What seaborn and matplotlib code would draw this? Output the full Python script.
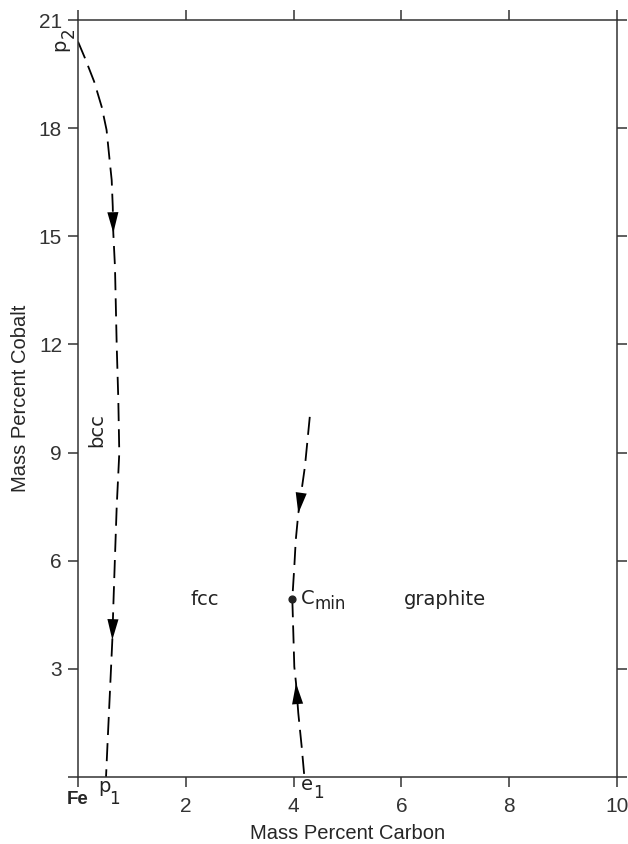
import pandas as pd
import matplotlib.pyplot as plt
import seaborn as sns

# curve p2 -> p1 (bcc / fcc boundary)
p_carbon = [0.0, 0.13, 0.30, 0.44, 0.53, 0.58, 0.625, 0.645, 0.655, 0.686,
            0.718, 0.748, 0.766, 0.748, 0.718, 0.686, 0.655, 0.637, 0.594,
            0.551, 0.52]
p_cobalt = [20.40, 19.94, 19.29, 18.59, 17.95, 17.21, 16.56, 15.82, 15.09,
            14.15, 11.98, 10.46, 8.99, 8.42, 7.50, 6.11, 4.72, 3.80, 2.41,
            1.03, 0.0]

# curve through Cmin to e1 (fcc / graphite boundary)
e_carbon = [4.30, 4.21, 4.087, 4.04, 4.013, 3.976, 3.995, 4.013, 4.045,
            4.087, 4.15, 4.20]
e_cobalt = [9.99, 8.61, 7.31, 6.57, 5.83, 4.94, 3.99, 3.06, 2.60, 1.77,
            0.84, 0.0]

# arrow heads: (tip, point behind tip)
arrows = [((0.655, 15.09), (0.645, 15.82)),
          ((0.637, 3.80), (0.655, 4.72)),
          ((4.087, 7.31), (4.21, 8.61)),
          ((4.045, 2.60), (4.087, 1.77))]

cmin = (3.976, 4.94)

x_ticks = [0, 2, 4, 6, 8, 10]
x_ticklabels = ['', '2', '4', '6', '8', '10']
y_ticks = [0, 3, 6, 9, 12, 15, 18, 21]
y_ticklabels = ['', '3', '6', '9', '12', '15', '18', '21']

sns.set_style('ticks')
plt.rcParams['font.family'] = ['Liberation Sans', 'DejaVu Sans']

fig, ax = plt.subplots(figsize=(6.28, 8.44), dpi=100)
fig.subplots_adjust(left=0.1242, right=0.9825, bottom=0.0794, top=0.9763)

p_df = pd.DataFrame({'carbon': p_carbon, 'cobalt': p_cobalt})
e_df = pd.DataFrame({'carbon': e_carbon, 'cobalt': e_cobalt})
for df in (p_df, e_df):
    sns.lineplot(data=df, x='carbon', y='cobalt', sort=False, estimator=None,
                 color='black', lw=1.3, ax=ax)
for line in ax.lines:
    line.set_dashes((10, 4.5))

for tip, back in arrows:
    ax.annotate('', xy=tip, xytext=back,
                arrowprops=dict(arrowstyle='-|>,head_length=0.75,head_width=0.2',
                                mutation_scale=20, fc='black', ec='black',
                                lw=0, shrinkA=0, shrinkB=0))

ax.scatter([cmin[0]], [cmin[1]], s=24, color='#222222', zorder=5)

ax.set_xlim(0, 10)
ax.set_ylim(0, 21)
ax.set_xticks(x_ticks)
ax.set_xticklabels(x_ticklabels)
ax.set_yticks(y_ticks)
ax.set_yticklabels(y_ticklabels)

for s in ax.spines.values():
    s.set_visible(True)
    s.set_color('#333333')
    s.set_linewidth(1.1)
ax.tick_params(which='both', direction='out', length=7.5, width=1.1,
               color='#333333', top=True, right=True, labelsize=15,
               labelcolor='#333333', pad=4)
ax.tick_params(axis='x', pad=7)

ax.set_xlabel('Mass Percent Carbon', fontsize=14.5, labelpad=6)
ax.set_ylabel('Mass Percent Cobalt', fontsize=14.5, labelpad=6)

lab = dict(fontsize=14, color='#222222', family='DejaVu Sans',
           clip_on=False, annotation_clip=False)


def sub_label(x, y, main, sub, rot=0, dx=7, dy=-6):
    ax.annotate(main, (x, y), ha='center', va='center', rotation=rot, **lab)
    ax.annotate(sub, (x, y), xytext=(dx, dy), textcoords='offset points',
                ha='center', va='center', rotation=rot,
                fontsize=12, color='#222222', family='DejaVu Sans',
                clip_on=False, annotation_clip=False)


sub_label(-0.33, 20.30, 'p', '2', rot=90, dx=6, dy=9)
sub_label(0.49, -0.26, 'p', '1', dx=7, dy=-9)
sub_label(4.25, -0.22, 'e', '1', dx=8, dy=-6)
ax.text(0.0, -0.62, 'Fe', fontsize=13.5, fontweight='bold', ha='center',
        va='center', clip_on=False)
ax.annotate('bcc', (0.35, 9.63), rotation=90, ha='center', va='center', **lab)
ax.annotate('fcc', (2.36, 4.91), ha='center', va='center', **lab)
ax.annotate('graphite', (6.81, 4.91), ha='center', va='center', **lab)
ax.annotate('C', (4.13, 4.94), ha='left', va='center', **lab)
ax.annotate('min', (4.13, 4.94), xytext=(10, -4), textcoords='offset points',
            ha='left', va='center', fontsize=12, color='#222222',
            family='DejaVu Sans')

fig.savefig('out.png', dpi=100)
